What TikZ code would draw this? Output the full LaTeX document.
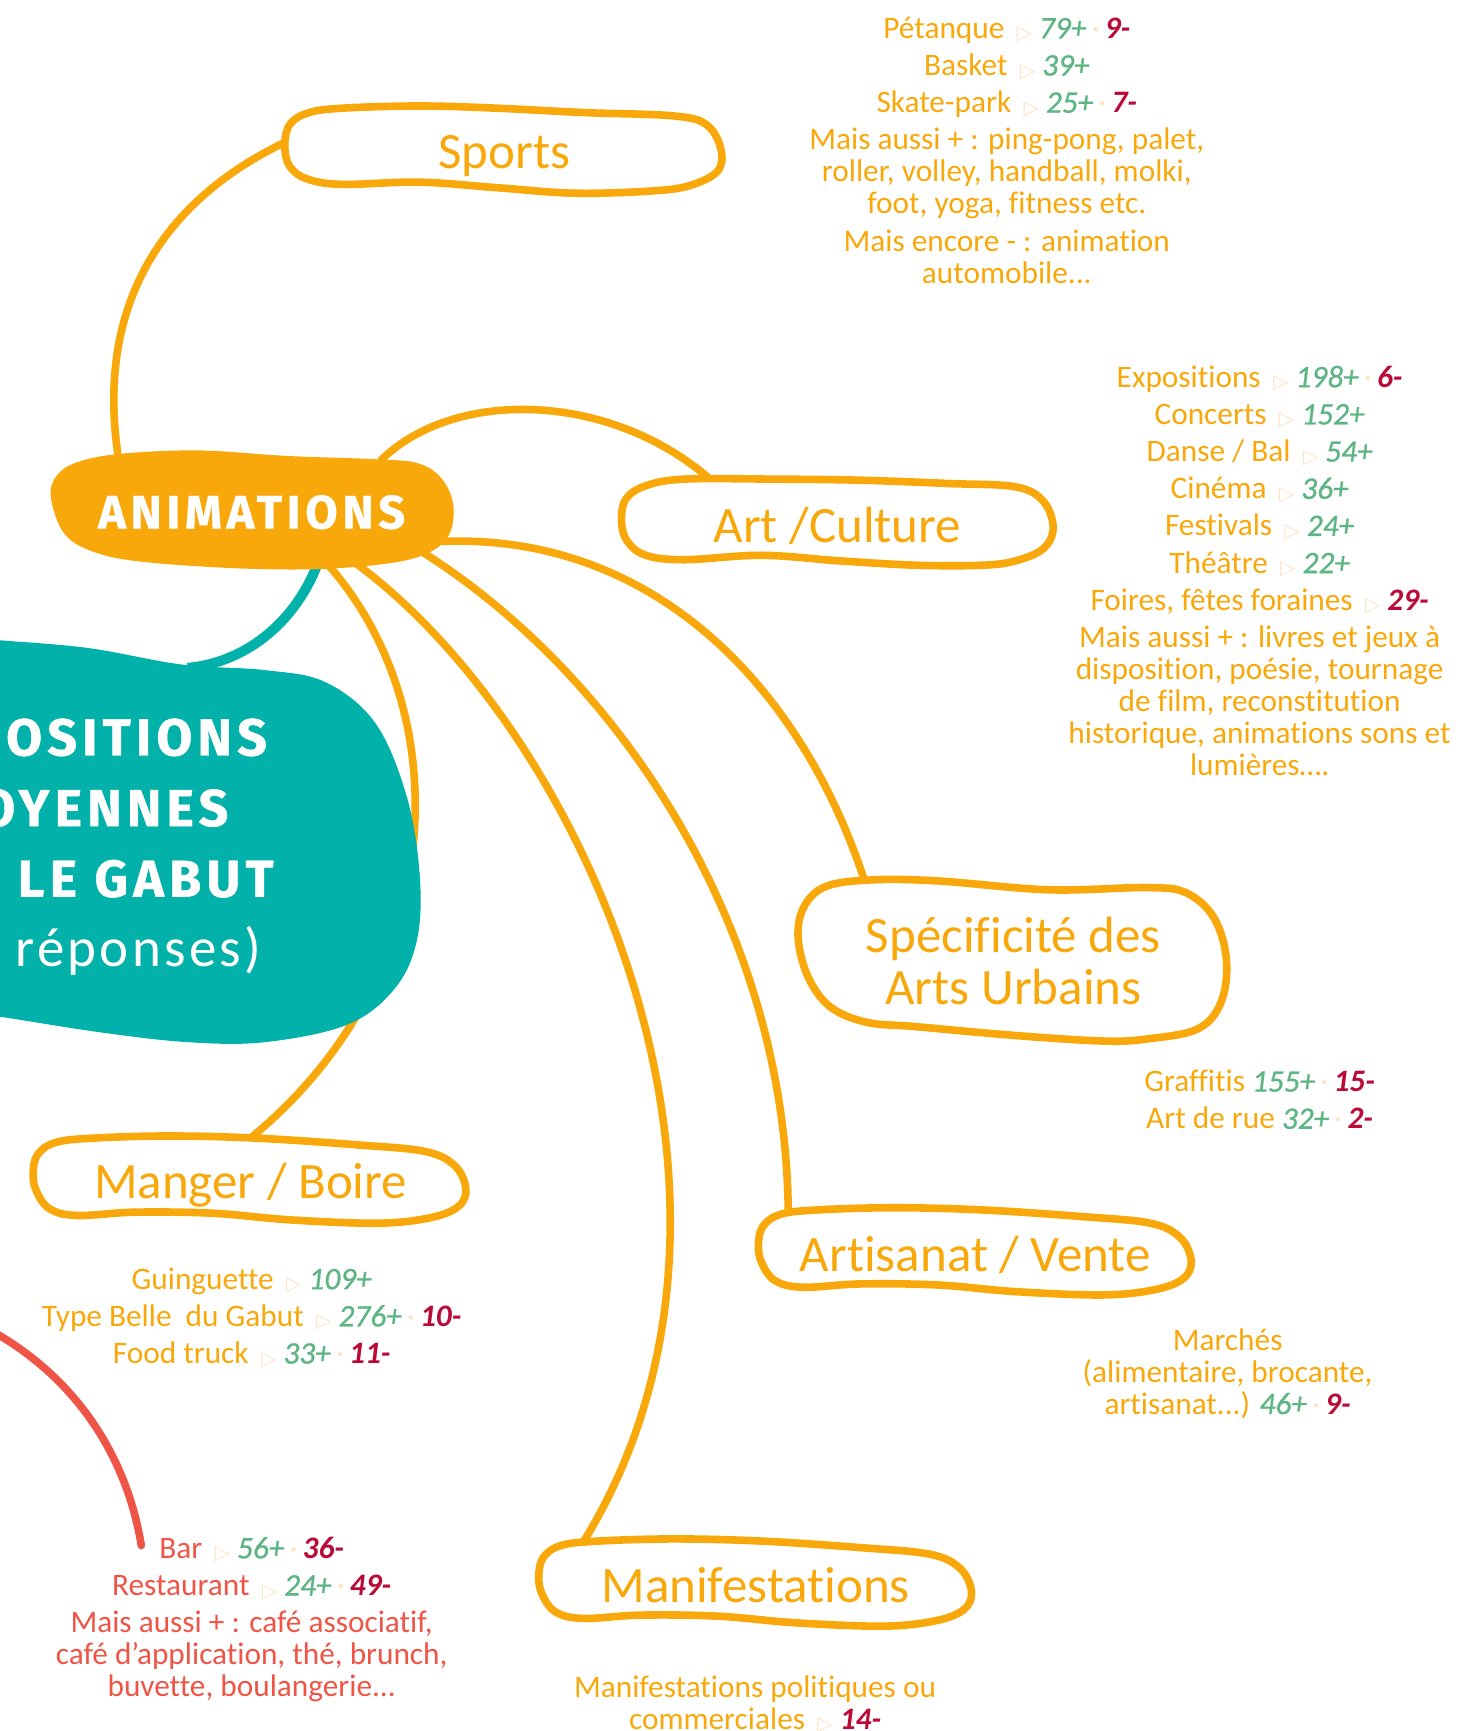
\documentclass[tikz,border=0pt]{standalone}
\usepackage{fontspec}
\setmainfont[Ligatures=NoCommon]{Carlito}
\newfontfamily\trifont{DejaVu Sans}
\newfontfamily\titlefont[LetterSpace=10,BoldFeatures={FakeBold=0.8}]{Fira Sans}
\newfontfamily\thinfont[LetterSpace=6,Ligatures=NoCommon]{Carlito}
\newfontfamily\valfont[Ligatures=NoCommon,ItalicFeatures={FakeBold=0.8}]{Carlito}
\usetikzlibrary{calc}
\definecolor{orangeC}{HTML}{F9A80B}
\definecolor{tealC}{HTML}{02B1AA}
\definecolor{redC}{HTML}{EF5546}
\definecolor{greenC}{HTML}{5DB583}
\definecolor{crimC}{HTML}{B90A38}
\definecolor{paleC}{HTML}{FDE3C6}
\newcommand\trimark{\,{\color{paleC}\trifont\fontsize{20}{20}\selectfont\raisebox{-1.5pt}{▷}}}
\newcommand\dotmark{{\color{paleC}\,·\,}}
\newcommand\valp[1]{{\color{greenC}\valfont\itshape #1}}
\newcommand\valm[1]{{\color{crimC}\bfseries\itshape #1}}
\tikzset{
  x=1.104pt,y=-1.104pt,
  conn/.style={draw=orangeC,line width=7.6pt},
  pillline/.style={draw=orangeC,line width=7.6pt},
  boxlabel/.style={inner sep=0pt,text=orangeC,align=center,font=\fontsize{51}{58}\selectfont},
  listtext/.style={inner sep=0pt,text=orangeC,align=center,font=\fontsize{31.3}{32}\selectfont},
  redlist/.style={listtext,text=redC},
  titleline/.style={inner sep=0pt,anchor=east,text=white,font=\titlefont\bfseries\fontsize{52}{60}\selectfont},
  pillshape/.pic={\draw[pillline] plot[smooth cycle,tension=0.6] coordinates{(0,34)(4,17)(20,6)(53,2)(123,0)(203,2)(293,8)(355,14)(382,27)(392,48)(385,64)(360,74)(313,79)(233,76)(163,70)(93,69)(40,72)(15,66)(3,50)};}
}
\begin{document}
\begin{tikzpicture}
\useasboundingbox (0,0) rectangle (1333.3,1568);
% label nodes
\node[boxlabel,minimum width=398*1.104pt,minimum height=81*1.104pt] (sports) at (457,141) {Sports};
\node[boxlabel,minimum width=393*1.104pt,minimum height=81*1.104pt] (art) at (758.5,476) {Art /Culture};
\node[boxlabel,minimum width=390*1.104pt,minimum height=146*1.104pt] (spec) at (918,870.5) {Spécificité des\\[-6pt]Arts Urbains};
\node[boxlabel,minimum width=393*1.104pt,minimum height=80*1.104pt] (artis) at (883.5,1137) {Artisanat / Vente};
\node[boxlabel,minimum width=393*1.104pt,minimum height=80*1.104pt] (manif) at (684.5,1436) {Manifestations};
\node[boxlabel,minimum width=393*1.104pt,minimum height=80*1.104pt] (manger) at (227,1074) {Manger / Boire};
\coordinate (anim) at (228.5,462.5);
\coordinate (tealc) at (190,762);
\coordinate (redstart) at (-5,1207);
\coordinate (redend) at (128,1400);
% connectors
\draw[conn] ($(anim)+(-120,-40)$) .. controls (83,275) and (150,180) .. ($(sports)+(-197,-13)$);
\draw[conn] ($(anim)+(116,-45)$) .. controls (410,352) and (550,354) .. ($(art)+(-116.5,-43)$);
\draw[conn] ($(anim)+(170,28)$) .. controls (590,482) and (725,620) .. ($(spec)+(-135,-73)$);
\draw[conn] ($(anim)+(150,35)$) .. controls (560,610) and (712,840) .. ($(artis)+(-169.5,-39)$);
\draw[conn] ($(anim)+(90,45)$) .. controls (530,660) and (720,1090) .. ($(manif)+(-157.5,-37)$);
\draw[conn] ($(anim)+(65,45)$) .. controls (415,640) and (410,880) .. ($(manger)+(1,-44)$);
\draw[draw=tealC,line width=10pt] ($(anim)+(62,40)$) .. controls (272,560) and (225,600) .. ($(tealc)+(-20,-157)$);
\draw[draw=redC,line width=7.6pt,line cap=round] (redstart) .. controls (70,1250) and (115,1320) .. (redend);
% blobs
\fill[tealC] plot[smooth,tension=0.6] coordinates{(-30,578)(0,580)(80,587)(165,602)(240,607)(295,618)(340,655)(368,720)(380,790)(378,850)(358,895)(315,928)(240,944)(170,944)(90,935)(0,921)(-30,918)} -- cycle;
\fill[orangeC] plot[smooth cycle,tension=0.6] coordinates{(46,450)(52,430)(72,418)(110,411)(180,408)(260,413)(340,416)(380,420)(402,436)(411,462)(403,490)(370,507)(300,515)(220,515)(130,509)(85,500)(58,483)};
% pills
\draw[pillline] plot[smooth cycle,tension=0.6] coordinates{(258,130)(263,112)(280,102)(310,98)(380,96)(450,98)(530,102)(610,105)(640,113)(653,135)(650,155)(625,168)(590,173)(520,175)(450,170)(380,165)(310,167)(278,162)(262,150)};
\draw[pillline] plot[smooth cycle,tension=0.6] coordinates{(563,472)(567,452)(585,440)(620,434)(700,434)(780,435)(860,438)(920,441)(945,454)(954,478)(945,497)(920,508)(890,512)(830,512)(760,508)(690,503)(620,507)(585,503)(568,490)};
\draw[pillline] plot[smooth cycle,tension=0.6] coordinates{(723,850)(728,822)(748,803)(790,797)(850,798)(950,806)(1040,804)(1075,809)(1100,832)(1111,870)(1106,908)(1085,932)(1040,941)(1000,943)(920,938)(830,930)(785,926)(752,912)(732,885)};
\pic at (687,1094) {pillshape};
\pic at (488,1394) {pillshape};
\pic at (30,1029) {pillshape};
% blob texts
\node[inner sep=0pt,text=white,font=\titlefont\bfseries\fontsize{47}{50}\selectfont] (animtext) at (228,464) {ANIMATIONS};
\node[titleline] (t1) at (242,668) {OSITIONS};
\node[titleline] (t2) at (207,732) {OYENNES};
\node[titleline] (t3) at (248,796) {LE GABUT};
\node[titleline,font=\thinfont\fontsize{55}{60}\selectfont] (t4) at (237,861) {réponses)};
% lists
\node[listtext] (l1) at (912,136) {Pétanque \trimark{} \valp{79+}\dotmark\valm{9-}\\[5.2pt]
Basket \trimark{} \valp{39+}\\[5.2pt]
Skate-park \trimark{} \valp{25+}\dotmark\valm{7-}\\[5.2pt]
Mais aussi + : ping-pong, palet,\\roller, volley, handball, molki,\\foot, yoga, fitness etc.\\[5.2pt]
Mais encore - : animation\\automobile...};
\node[listtext] (l2) at (1141,517) {Expositions \trimark{} \valp{198+}\dotmark\valm{6-}\\[5.2pt]
Concerts \trimark{} \valp{152+}\\[5.2pt]
Danse / Bal \trimark{} \valp{54+}\\[5.2pt]
Cinéma \trimark{} \valp{36+}\\[5.2pt]
Festivals \trimark{} \valp{24+}\\[5.2pt]
Théâtre \trimark{} \valp{22+}\\[5.2pt]
Foires, fêtes foraines \trimark{} \valm{29-}\\[5.2pt]
Mais aussi + : livres et jeux à\\disposition, poésie, tournage\\de film, reconstitution\\historique, animations sons et\\lumières….};
\node[listtext] (l3) at (1141,996) {Graffitis \valp{155+}\dotmark\valm{15-}\\[5.2pt]
Art de rue \valp{32+}\dotmark\valm{2-}};
\node[listtext] (l4) at (1112,1244) {Marchés\\(alimentaire, brocante,\\artisanat...) \valp{46+}\dotmark\valm{9-}};
\node[listtext] (l5) at (228,1193.5) {Guinguette \trimark{} \valp{109+}\\[5.2pt]
Type Belle\ \ du Gabut \trimark{} \valp{276+}\dotmark\valm{10-}\\[5.2pt]
Food truck \trimark{} \valp{33+}\dotmark\valm{11-}};
\node[redlist] (l6) at (228,1467) {Bar \trimark{} \valp{56+}\dotmark\valm{36-}\\[5.2pt]
Restaurant \trimark{} \valp{24+}\dotmark\valm{49-}\\[5.2pt]
Mais aussi + : café associatif,\\café d’application, thé, brunch,\\buvette, boulangerie...};
\node[listtext] (l7) at (684,1544) {Manifestations politiques ou\\commerciales \trimark{} \valm{14-}};
\end{tikzpicture}
\end{document}
